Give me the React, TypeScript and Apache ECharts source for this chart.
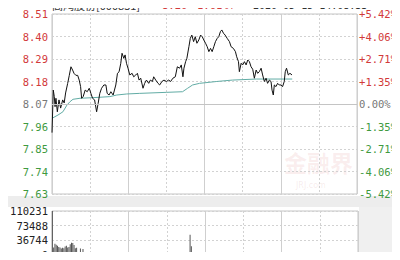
import React, { useEffect, useRef } from "react";
import * as echarts from "echarts";

// Minute (0..240) and price of the intraday line
const priceMin = [0,1,1.8,2.4,3.1,4.2,5.5,6.8,8.4,9.6,10.7,12.3,13.6,14.9,16.2,17.3,18.8,20.2,21.4,22.5,23.3,24.5,26.1,27.7,29.3,30.6,31.9,33.5,35.1,36.3,37.6,39.0,40.8,42.4,43.4,44.9,46.3,48.1,50.2,51.5,52.8,54.1,55.1,56.5,57.5,58.6,59.8,61.2,63.0,64.3,65.9,67.2,68.5,69.8,71.6,72.9,74.3,76.1,77.4,79.0,80.0,81.6,83.4,84.7,86.5,88.1,90.0,91.8,93.3,95.1,97.0,98.6,100.4,101.7,103.0,103.8,105.1,106.1,107.7,108.8,110.0,111.4,112.7,114.0,115.5,116.9,118.2,119.4,120.8,122.1,123.4,124.7,126.0,127.3,128.6,130.0,131.2,132.5,133.6,134.9,136.2,137.8,139.6,140.9,142.7,144.3,145.3,146.7,147.4,148.8,150.0,151.4,152.7,154.0,155.3,156.6,157.9,159.2,160.6,161.8,163.1,164.5,165.7,167.1,168.4,169.6,171.0,172.3,173.1,174.1,174.9,176.2,177.5,178.8,180.2,181.4,182.7,183.5,184.5,185.9,187.2,188.8];
const priceVal = [7.93,8.138,8.106,8.057,8.098,8.032,8.09,8.05,8.09,8.075,8.124,8.17,8.21,8.252,8.236,8.22,8.21,8.21,8.187,8.155,8.098,8.106,8.138,8.13,8.147,8.122,8.098,8.09,8.032,8.073,8.122,8.147,8.163,8.163,8.122,8.114,8.13,8.114,8.163,8.22,8.228,8.269,8.318,8.293,8.31,8.269,8.245,8.212,8.22,8.203,8.212,8.22,8.187,8.196,8.147,8.171,8.187,8.171,8.187,8.18,8.203,8.187,8.171,8.163,8.18,8.187,8.18,8.187,8.18,8.196,8.203,8.252,8.245,8.261,8.203,8.245,8.277,8.293,8.35,8.391,8.407,8.375,8.399,8.367,8.383,8.407,8.399,8.383,8.367,8.35,8.326,8.342,8.326,8.35,8.375,8.391,8.399,8.424,8.432,8.416,8.407,8.391,8.375,8.35,8.342,8.326,8.301,8.277,8.228,8.269,8.261,8.277,8.261,8.285,8.277,8.252,8.24,8.196,8.236,8.22,8.228,8.245,8.212,8.18,8.196,8.171,8.187,8.18,8.138,8.114,8.163,8.155,8.171,8.163,8.163,8.155,8.18,8.228,8.245,8.212,8.22,8.212];

// Average price line
const avgMin = [0,4.7,8.6,11.8,14.1,16.5,22,32.2,45.5,51,58.8,69,90.2,102.7,106.7,110.6,116.1,129.4,142,160.8,189];
const avgVal = [8.0,8.016,8.032,8.065,8.081,8.093,8.098,8.101,8.106,8.114,8.119,8.122,8.127,8.13,8.147,8.163,8.171,8.18,8.187,8.192,8.192];

// Volume bars (minute, volume)
const volMin = [0,1,2,3,4,5,6,7,8,9,10,11,12,13,14,15,16,17,18,19,22,24,108,109];
const volVal = [110231,18000,27000,25000,22000,19000,18000,15000,17000,16000,20000,22000,18000,19000,26000,30000,29000,24000,16000,17000,15000,14000,50000,21000];

const pctLabels = ["-5.42%","-4.06%","-2.71%","-1.35%","0.00%","+1.35%","+2.71%","+4.06%","+5.42%"];
const volLabels = ["0","36744","73488","110231"];
const prevClose = 8.07;

const MONO = "DejaVu Sans Mono";
const RED = "#d23a3a";
const GREEN = "#3f9a3f";
const GRAYT = "#777";

export default function App() {
  const ref = useRef<HTMLDivElement>(null);
  useEffect(() => {
    const chart = echarts.init(ref.current!, null, { renderer: "svg" });
    const dashed = { show: true, lineStyle: { color: "#d2d2d2", type: [2, 2] as any, width: 1 } };
    const solid = { show: true, lineStyle: { color: "#cfcfcf", type: "solid" as any, width: 1 } };
    const rich = {
      r: { color: RED, fontFamily: MONO, fontSize: 10.5 },
      g: { color: GREEN, fontFamily: MONO, fontSize: 10.5 },
      n: { color: GRAYT, fontFamily: MONO, fontSize: 10.5 },
      k: { color: "#222", fontFamily: MONO, fontSize: 10.5 },
    };
    const xBase = (grid: number, interval: number, split: any) => ({
      type: "value", gridIndex: grid, min: 0, max: 240, interval,
      axisLine: { show: false }, axisTick: { show: false }, axisLabel: { show: false },
      splitLine: split,
    });
    chart.setOption({
      animation: false,
      backgroundColor: "#fff",
      grid: [
        { left: 52, top: 14, width: 306, height: 180, show: true, borderColor: "#c4c4c4", backgroundColor: "#fff" },
        { left: 52, top: 211, width: 306, height: 56, show: true, borderColor: "#c4c4c4", backgroundColor: "#fff" },
      ],
      xAxis: [
        xBase(0, 30, dashed),
        xBase(0, 60, solid),
        xBase(1, 30, dashed),
        xBase(1, 60, solid),
      ],
      yAxis: [
        {
          type: "value", gridIndex: 0, min: 7.63, max: 8.51, interval: 0.11, position: "left",
          axisLine: { show: false }, axisTick: { show: false }, splitLine: dashed,
          axisLabel: {
            margin: 4, rich,
            formatter: (v: number) => {
              const c = v > prevClose + 0.005 ? "r" : v < prevClose - 0.005 ? "g" : "n";
              return `{${c}|${v.toFixed(2)}}`;
            },
          },
        },
        {
          type: "value", gridIndex: 0, min: -4, max: 4, interval: 1, position: "right",
          axisLine: { show: false }, axisTick: { show: false }, splitLine: { show: false },
          axisLabel: {
            margin: 2, rich,
            formatter: (v: number) => {
              const i = Math.round(v);
              const c = i > 0 ? "r" : i < 0 ? "g" : "n";
              return `{${c}|${pctLabels[i + 4]}}`;
            },
          },
        },
        {
          type: "value", gridIndex: 1, min: 0, max: 110231, interval: 110231 / 3, position: "left",
          axisLine: { show: false }, axisTick: { show: false }, splitLine: dashed,
          axisLabel: {
            margin: 4, rich,
            formatter: (v: number) => `{k|${volLabels[Math.round(v / (110231 / 3))]}}`,
          },
        },
      ],
      series: [
        {
          type: "line", xAxisIndex: 0, yAxisIndex: 0, symbol: "none",
          data: avgMin.map((m, i) => [m, avgVal[i]]),
          lineStyle: { color: "#62aca5", width: 1 }, z: 3,
          markLine: {
            silent: true, symbol: "none", label: { show: false },
            lineStyle: { color: "#c4c4c4", type: "solid", width: 1 },
            data: [{ yAxis: prevClose }],
          },
        },
        {
          type: "line", xAxisIndex: 0, yAxisIndex: 0, symbol: "none",
          data: priceMin.map((m, i) => [m, priceVal[i]]),
          lineStyle: { color: "#111", width: 1 }, z: 4,
        },
        {
          type: "bar", xAxisIndex: 2, yAxisIndex: 2, barWidth: 1,
          data: volMin.map((m, i) => [m + 0.3, volVal[i]]),
          itemStyle: { color: "#555" },
        },
      ],
      graphic: [
        { type: "rect", shape: { x: 0, y: 196, width: 400, height: 11 }, style: { fill: "#ededed" }, silent: true },
        { type: "rect", shape: { x: 359, y: 207, width: 41, height: 53 }, style: { fill: "#f0f0f0" }, silent: true },
        { type: "text", x: 52, y: 10, style: { text: "高鸿股份[000851]", fill: "#333", font: "11px 'Noto Sans CJK SC'", verticalAlign: "bottom" } },
        { type: "text", x: 162, y: 10, style: { text: "8.20", fill: RED, font: `10.5px '${MONO}'`, verticalAlign: "bottom" } },
        { type: "text", x: 197, y: 10, style: { text: "1.61%↑", fill: RED, font: `10.5px '${MONO}'`, verticalAlign: "bottom" } },
        { type: "text", x: 253, y: 10, style: { text: "2020-05-15 14:08:33", fill: "#333", font: `10px '${MONO}'`, verticalAlign: "bottom" } },
        { type: "text", x: 284, y: 150, style: { text: "金融界", fill: "rgba(215,120,120,0.13)", font: "bold 23px 'Noto Sans CJK SC'" } },
        { type: "text", x: 296, y: 181, style: { text: "JRJ.com", fill: "rgba(200,120,120,0.15)", font: "8px 'DejaVu Sans'" } },
      ],
    });
    return () => chart.dispose();
  }, []);
  return <div ref={ref} style={{ width: 400, height: 260, margin: -8 }} />;
}
